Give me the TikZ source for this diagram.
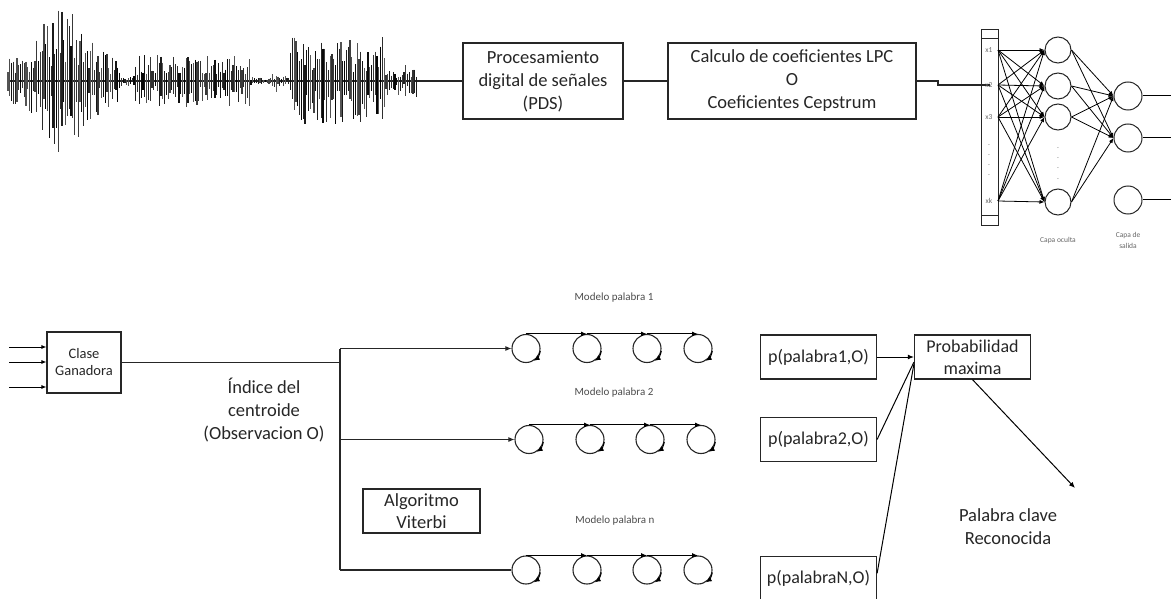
\documentclass[tikz,border=0pt]{standalone}
\usepackage{fontspec}
\setmainfont{Carlito}
\usepackage{tikz}
\usetikzlibrary{arrows.meta}

\begin{document}
\begin{tikzpicture}[x=1pt, y=-1pt,
  every node/.style={font=\fontsize{18.5}{23}\selectfont, align=center, inner sep=0pt, text=black!85},
  procbox/.style={draw=black!85, line width=1.2pt},
  pbox/.style={procbox, minimum width=116pt, minimum height=44pt, font=\fontsize{18}{22}\selectfont},
  state/.style={circle, draw=black!85, line width=1.1pt, minimum size=28pt},
  neuron/.style={circle, draw=black!85, line width=1pt},
  wire/.style={draw=black!85, line width=1.1pt},
  nnedge/.style={-{Latex[length=5pt,width=4pt]}, line width=0.8pt},
  hmmedge/.style={-{Latex[length=6pt,width=5pt]}, line width=1pt},
  looptip/.style={-{Latex[length=6pt,width=5pt]}, line width=1pt},
  nnlabel/.style={font=\fontsize{7.5}{12}\selectfont, text=black!60},
  modlabel/.style={font=\fontsize{11}{12}\selectfont, text=black!70}]
\useasboundingbox (0,0) rectangle (1171,599);

% Senal de voz
\pgfmathsetseed{42}
\draw[black!85, line width=1.2pt] (8,81) -- (418,81);
\foreach \i in {0,...,227}{
  \pgfmathsetmacro{\wx}{8+1.8*\i}
  \pgfmathsetmacro{\wa}{(\wx<120) ? (18+54*exp(max(-15,-1*((\wx-62)/34)*((\wx-62)/34)))) : ((\wx<135) ? 5 : ((\wx<250) ? 26 : ((\wx<290) ? (4+9*exp(max(-15,-1*((\wx-278)/5)*((\wx-278)/5)))) : ((\wx<385) ? 44 : 16))))}
  \pgfmathsetmacro{\wu}{\wa*(0.2+0.8*rnd)}
  \pgfmathsetmacro{\wd}{\wa*(0.2+0.8*rnd)}
  \pgfmathtruncatemacro{\wc}{65+35*rnd}
  \draw[black!\wc, line width=1.1pt] (\wx,81-\wu) -- (\wx,81+\wd);
}
\coordinate (wavend) at (418,81);

% Etapas superiores
\node[procbox, minimum width=160pt, minimum height=76pt] (pds) at (543,81) {Procesamiento\\digital de señales\\(PDS)};
\node[procbox, minimum width=248pt, minimum height=76pt] (lpc) at (792,81) {Calculo de coeficientes LPC\\O\\Coeficientes Cepstrum};
\draw[wire] (wavend) -- (pds.west);
\draw[wire] (pds.east) -- (lpc.west);

% Red neuronal
\node[draw=black!85, line width=0.8pt, minimum width=17pt, minimum height=196pt] (col) at (989.5,127) {};
\draw[black!85, line width=0.8pt] (981,38) -- (998,38);
\draw[black!85, line width=0.8pt] (981,215) -- (998,215);
\coordinate (jog1) at (938,81);
\coordinate (jog2) at (938,85);
\draw[wire] (lpc.east) -- (jog1) -- (jog2) -- (jog2 -| col.center);
\foreach \n/\y/\t in {1/50/x1, 2/85/x2, 3/117/x3, 4/201/xk}{
  \node[nnlabel] (xl\n) at (989,\y) {\t};
  \coordinate (in\n) at (998,\y);
}
\foreach \y in {145,155,165,175} \node[nnlabel] (dotin\y) at (989,\y) {.};
\foreach \n/\y in {1/50, 2/86, 3/117, 4/202} \node[neuron, minimum size=26pt] (h\n) at (1058,\y) {};
\foreach \y in {148,158,168,179} \node[nnlabel] (dothid\y) at (1058,\y) {.};
\foreach \n/\y in {1/96, 2/138, 3/200} \node[neuron, minimum size=28pt] (o\n) at (1128,\y) {};
\foreach \i in {1,...,4}
  \foreach \j in {1,...,4}
    \draw[nnedge] (in\i) -- (h\j.west);
\foreach \j in {1,...,4}
  \foreach \k in {1,2}
    \draw[nnedge] (h\j.east) -- (o\k.west);
\coordinate (nnout) at (1171,0);
\foreach \k in {1,2,3} \draw[line width=1pt] (o\k.east) -- (o\k.east -| nnout);
\node[nnlabel] (lbhid) at (1058,240) {Capa oculta};
\node[nnlabel, font=\fontsize{7.5}{11}\selectfont] (lbout) at (1128,240) {Capa de\\salida};

% Clase ganadora
\node[procbox, minimum width=74pt, minimum height=61pt, font=\fontsize{14.5}{17}\selectfont] (cg) at (84,362.5) {Clase\\Ganadora};
\foreach \n/\y in {1/347, 2/362, 3/387}{
  \coordinate (cgin\n) at (9,\y);
  \draw[nnedge] (cgin\n) -- (cgin\n -| cg.west);
}
\node (idx) at (264,410) {Índice del\\centroide\\(Observacion O)};
\node[procbox, minimum width=117pt, minimum height=44pt, font=\fontsize{18.5}{22}\selectfont] (vit) at (421.5,511) {Algoritmo\\Viterbi};

% Modelos de palabra (HMM)
\foreach \r/\y/\dx in {1/348.5/0, 2/439.5/3, 3/570/0}{
  \foreach \c/\x in {1/526, 2/587, 3/647, 4/698}{
    \node[state] (s\r\c) at (\x+\dx,\y) {};
    \draw[looptip] (s\r\c.-10) arc[start angle=-10, end angle=-58, radius=14.5pt];
  }
  \foreach \a/\b in {1/2, 2/3, 3/4} \draw[hmmedge] (s\r\a.north) -- (s\r\b.north);
}
\node[modlabel] (mod1) at (614,298) {Modelo palabra 1};
\node[modlabel] (mod2) at (614,393) {Modelo palabra 2};
\node[modlabel] (modn) at (615,521) {Modelo palabra n};

\coordinate (vtop) at (340,348.5);
\coordinate (vbot) at (340,570);
\draw[wire] (cg.east) -- (cg.east -| vtop);
\draw[wire] (vtop) -- (vbot);
\draw[wire, hmmedge] (vtop) -- (s11.west);
\draw[wire, hmmedge] (vtop |- s21) -- (s21.west);
\draw[wire] (vbot) -- (s31.west);

% Probabilidades
\node[pbox] (p1) at (818.5,357) {p(palabra1,O)};
\node[pbox] (p2) at (818.5,439.5) {p(palabra2,O)};
\node[pbox] (p3) at (818.5,578.5) {p(palabraN,O)};
\node[pbox] (pmax) at (972.5,357) {Probabilidad\\maxima};
\draw[hmmedge] (p1.east) -- (pmax.west);
\draw[line width=1pt] (p2.east) -- (pmax.185);
\draw[line width=1pt] (p3.5) -- (pmax.187);
\coordinate (kwend) at (1075,488);
\draw[hmmedge] (pmax.south) -- (kwend);
\node (kw) at (1008,527) {Palabra clave\\Reconocida};
\end{tikzpicture}
\end{document}
